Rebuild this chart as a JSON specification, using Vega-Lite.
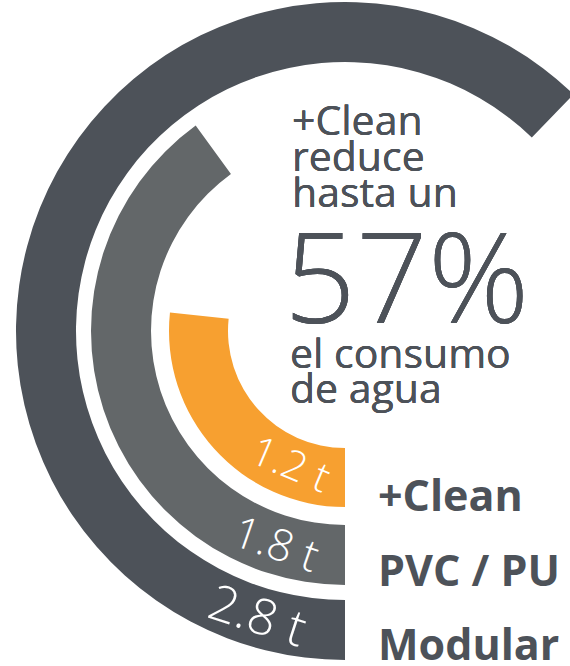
{
  "$schema": "https://vega.github.io/schema/vega-lite/v6.json",
  "width": 450,
  "height": 662,
  "autosize": {"type": "none"},
  "padding": {"left": 120, "top": 0, "right": 0, "bottom": 4},
  "background": "white",
  "config": {"view": {"stroke": null}, "font": "Open Sans"},
  "data": {"values": [
    {"material": "Modular", "consumo": 2.8, "etiqueta": "2.8 t"},
    {"material": "PVC / PU", "consumo": 1.8, "etiqueta": "1.8 t"},
    {"material": "+Clean", "consumo": 1.2, "etiqueta": "1.2 t"}
  ]},
  "layer": [
    {
      "transform": [{"filter": "datum.material === 'Modular'"}],
      "layer": [
        {
          "mark": {"type": "arc", "radius": 329, "radius2": 269},
          "encoding": {
            "theta": {"field": "consumo", "type": "quantitative", "stack": null, "scale": {"domain": [0, 2.8], "range": [3.14159, 7.0509]}},
            "theta2": {"datum": 0},
            "color": {"field": "material", "type": "nominal", "legend": null, "scale": {"domain": ["Modular", "PVC / PU", "+Clean"], "range": ["#4d5259", "#636769", "#f7a030"]}}
          }
        },
        {
          "mark": {"type": "text", "theta": 3.44, "radius": 300, "angle": 18, "fontSize": 50, "fontWeight": 300, "color": "white", "align": "center", "baseline": "middle"},
          "encoding": {"text": {"field": "etiqueta"}}
        },
        {
          "mark": {"type": "text", "theta": 3.14159, "radius": 299, "dx": 33, "dy": 30, "align": "left", "baseline": "alphabetic", "fontSize": 43, "fontWeight": "bold", "color": "#4d5259"},
          "encoding": {"text": {"field": "material"}}
        }
      ]
    },
    {
      "transform": [{"filter": "datum.material === 'PVC / PU'"}],
      "layer": [
        {
          "mark": {"type": "arc", "radius": 254, "radius2": 194},
          "encoding": {
            "theta": {"field": "consumo", "type": "quantitative", "stack": null, "scale": {"domain": [0, 2.8], "range": [3.14159, 7.0509]}},
            "theta2": {"datum": 0},
            "color": {"field": "material", "type": "nominal", "legend": null, "scale": {"domain": ["Modular", "PVC / PU", "+Clean"], "range": ["#4d5259", "#636769", "#f7a030"]}}
          }
        },
        {
          "mark": {"type": "text", "theta": 3.455, "radius": 226, "angle": 19, "fontSize": 44, "fontWeight": 300, "color": "white", "align": "center", "baseline": "middle"},
          "encoding": {"text": {"field": "etiqueta"}}
        },
        {
          "mark": {"type": "text", "theta": 3.14159, "radius": 224, "dx": 33, "dy": 31, "align": "left", "baseline": "alphabetic", "fontSize": 43, "fontWeight": "bold", "color": "#4d5259"},
          "encoding": {"text": {"field": "material"}}
        }
      ]
    },
    {
      "transform": [{"filter": "datum.material === '+Clean'"}],
      "layer": [
        {
          "mark": {"type": "arc", "radius": 176, "radius2": 117},
          "encoding": {
            "theta": {"field": "consumo", "type": "quantitative", "stack": null, "scale": {"domain": [0, 2.8], "range": [3.14159, 7.0509]}},
            "theta2": {"datum": 0},
            "color": {"field": "material", "type": "nominal", "legend": null, "scale": {"domain": ["Modular", "PVC / PU", "+Clean"], "range": ["#4d5259", "#636769", "#f7a030"]}}
          }
        },
        {
          "mark": {"type": "text", "theta": 3.53, "radius": 146, "angle": 23, "fontSize": 41, "fontWeight": 300, "color": "white", "align": "center", "baseline": "middle"},
          "encoding": {"text": {"field": "etiqueta"}}
        },
        {
          "mark": {"type": "text", "theta": 3.14159, "radius": 147, "dx": 33, "dy": 33, "align": "left", "baseline": "alphabetic", "fontSize": 43, "fontWeight": "bold", "color": "#4d5259"},
          "encoding": {"text": {"field": "material"}}
        }
      ]
    },
    {
      "mark": {"type": "text", "align": "left", "baseline": "alphabetic", "fontSize": 41, "lineHeight": 36, "fontWeight": 400, "color": "#4d5259"},
      "encoding": {
        "x": {"value": 172},
        "y": {"value": 135},
        "text": {"value": ["+Clean", "reduce", "hasta un"]}
      }
    },
    {
      "mark": {"type": "text", "align": "left", "baseline": "alphabetic", "fontSize": 126, "fontWeight": 350, "color": "#4d5259"},
      "encoding": {
        "x": {"value": 164},
        "y": {"value": 323},
        "text": {"value": "57%"}
      }
    },
    {
      "mark": {"type": "text", "align": "left", "baseline": "alphabetic", "fontSize": 41, "lineHeight": 35, "fontWeight": 400, "color": "#4d5259"},
      "encoding": {
        "x": {"value": 170},
        "y": {"value": 368},
        "text": {"value": ["el consumo", "de agua"]}
      }
    }
  ]
}
